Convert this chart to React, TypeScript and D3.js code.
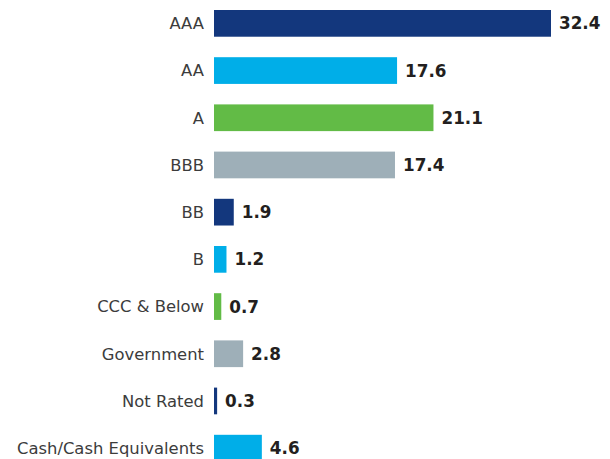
import React from "react";
import * as d3 from "d3";

const categories = ["AAA", "AA", "A", "BBB", "BB", "B", "CCC & Below", "Government", "Not Rated", "Cash/Cash Equivalents"];
const values = [32.4, 17.6, 21.1, 17.4, 1.9, 1.2, 0.7, 2.8, 0.3, 4.6];
const palette = ["#13377d", "#00aee8", "#62bb46", "#9eafb8"];

export default function App() {
  const width = 610;
  const height = 459;
  const x = d3.scaleLinear().domain([0, 32.4]).range([214, 551]);
  const y = d3
    .scaleBand<string>()
    .domain(categories)
    .range([10 - 47.2 * 0.217, 10 - 47.2 * 0.217 + 47.2 * 10])
    .paddingInner(0.434)
    .paddingOuter(0.217);
  const font = "'DejaVu Sans', sans-serif";
  return (
    <svg
      width={width}
      height={height}
      style={{ position: "absolute", left: 0, top: 0, background: "#fff" }}
    >
      {categories.map((c, i) => {
        const yy = y(c)!;
        const bw = y.bandwidth();
        const cy = yy + bw / 2;
        return (
          <g key={c}>
            <rect
              x={x(0)}
              y={yy}
              width={x(values[i]) - x(0)}
              height={bw}
              fill={palette[i % 4]}
            />
            <text
              x={x(0) - 10}
              y={cy}
              dy="0.36em"
              textAnchor="end"
              fontFamily={font}
              fontSize={16.4}
              fill="#3c3c3c"
            >
              {c}
            </text>
            <text
              x={x(values[i]) + 8}
              y={cy}
              dy="0.36em"
              textAnchor="start"
              fontFamily={font}
              fontSize={16.8}
              fontWeight={700}
              fill="#231f20"
            >
              {values[i].toFixed(1)}
            </text>
          </g>
        );
      })}
    </svg>
  );
}
